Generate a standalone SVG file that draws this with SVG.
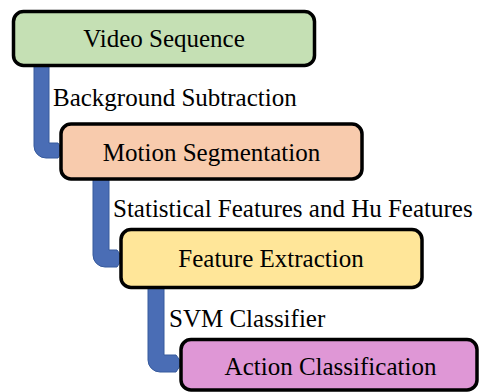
<svg xmlns="http://www.w3.org/2000/svg" width="480" height="392" viewBox="0 0 480 392">
  <style>
    .box { stroke: #000; stroke-width: 3.5; }
    .txt { font-family: "Liberation Serif", "Times New Roman", serif; font-size: 25px; fill: #000; }
    .mid { text-anchor: middle; }
    .elbow { fill: #4a6db5; stroke: #365a9c; stroke-width: 1; stroke-linejoin: round; }
  </style>
  <rect width="480" height="392" fill="#fff"/>

  <!-- elbow connectors, drawn under the boxes -->
  <g id="connectors">
    <path class="elbow" d="M34,64 H49 V143 H58 L63,150.5 L58,158 H46 A12,12 0 0 1 34,146 Z"/>
    <path class="elbow" d="M93,178 H109 V250 H117 L123,258 L117,267 H105 A12,12 0 0 1 93,255 Z"/>
    <path class="elbow" d="M148,286 H164 V355 H176 L182,363 L176,372 H160 A12,12 0 0 1 148,360 Z"/>
  </g>

  <g id="video-sequence">
    <rect class="box" x="13.5" y="11.5" width="301" height="54" rx="10" fill="#c5e0b4"/>
    <text class="txt mid" x="164" y="47">Video Sequence</text>
  </g>

  <g id="motion-segmentation">
    <rect class="box" x="61" y="124" width="301" height="55" rx="10" fill="#f8cbad"/>
    <text class="txt mid" x="211.5" y="161">Motion Segmentation</text>
  </g>

  <g id="feature-extraction">
    <rect class="box" x="121" y="229.5" width="301" height="58" rx="10" fill="#ffe699"/>
    <text class="txt mid" x="271" y="267">Feature Extraction</text>
  </g>

  <g id="action-classification">
    <rect class="box" x="181" y="339.5" width="296" height="50.5" rx="10" fill="#df97d6"/>
    <text class="txt mid" x="330.5" y="375">Action Classification</text>
  </g>

  <g id="labels">
    <text class="txt" x="53" y="106">Background Subtraction</text>
    <text class="txt" x="113" y="217">Statistical Features and Hu Features</text>
    <text class="txt" x="169" y="327">SVM Classifier</text>
  </g>
</svg>
